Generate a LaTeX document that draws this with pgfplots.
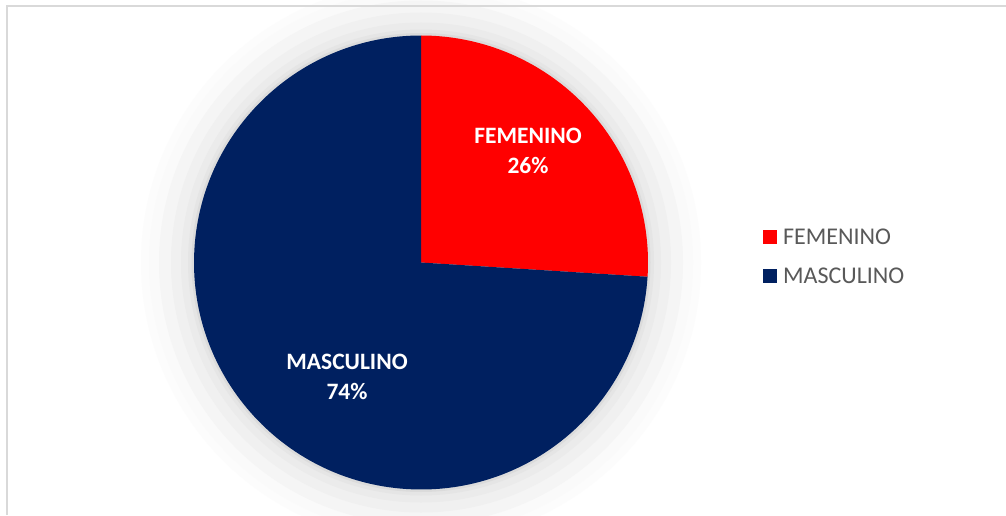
\documentclass[border=0pt]{standalone}
\usepackage{pgfplots}
\usepackage{pgfplotstable}
\pgfplotsset{compat=1.18}
\usepackage{fontspec}
\setmainfont{Carlito}

\definecolor{fem}{HTML}{FF0000}
\definecolor{mas}{HTML}{002060}
\definecolor{legtext}{HTML}{595959}
\definecolor{frame}{HTML}{D9D9D9}

% share of each group, in percent
\pgfplotstableread{
label      value
FEMENINO   26
MASCULINO  74
}\piedata

\pgfplotstablegetelem{0}{value}\of\piedata
\let\valF\pgfplotsretval
\pgfplotstablegetelem{1}{value}\of\piedata
\let\valM\pgfplotsretval
% slices start at 12 o'clock and run clockwise
\pgfmathsetmacro{\endF}{90-3.6*\valF}
\pgfmathsetmacro{\endM}{\endF-3.6*\valM}

\begin{document}
\begin{tikzpicture}
\begin{axis}[
    x=1pt, y=1pt,
    xmin=0, xmax=1006, ymin=0, ymax=515,
    hide axis, clip=false,
  ]
  \fill[white] (axis cs:0,0) rectangle (axis cs:1006,515);

  % soft shadow round the pie
  \fill[black!1]  (axis cs:421,252.5) circle[radius=280pt];
  \fill[black!2]  (axis cs:421,252.5) circle[radius=272pt];
  \fill[black!4]  (axis cs:421,252.5) circle[radius=262pt];
  \fill[black!6]  (axis cs:421,252.5) circle[radius=250pt];
  \fill[black!8]  (axis cs:421,252.5) circle[radius=240pt];
  \fill[black!10] (axis cs:421,252.5) circle[radius=233pt];
  \fill[black!14] (axis cs:421,252.5) circle[radius=229.5pt];

  % chart frame
  \draw[frame, line width=1.5pt] (axis cs:7,0) -- (axis cs:7,509) -- (axis cs:1006,509);

  % slices
  \fill[fem] (axis cs:421,252.5) -- (axis cs:421,479.5)
    arc[start angle=90, end angle=\endF, radius=227pt] -- cycle;
  \fill[mas] (axis cs:421,252.5) -- ([shift={(\endF:227pt)}]axis cs:421,252.5)
    arc[start angle=\endF, end angle=\endM, radius=227pt] -- cycle;

  % data labels
  \node[text=white, font=\fontsize{23.5}{30}\selectfont\bfseries, align=center]
    at (axis cs:528,364) {FEMENINO\\26\%};
  \node[text=white, font=\fontsize{23.5}{30}\selectfont\bfseries, align=center]
    at (axis cs:347,138) {MASCULINO\\74\%};

  % legend
  \fill[fem] (axis cs:763,271) rectangle (axis cs:777,285);
  \fill[mas] (axis cs:763,232) rectangle (axis cs:777,246);
  \node[text=legtext, font=\fontsize{24}{28}\selectfont, anchor=west, inner sep=0pt]
    at (axis cs:783,278) {FEMENINO};
  \node[text=legtext, font=\fontsize{24}{28}\selectfont, anchor=west, inner sep=0pt]
    at (axis cs:783,239) {MASCULINO};
\end{axis}
\pgfresetboundingbox
\path (current axis.south west) rectangle (current axis.north east);
\end{tikzpicture}
\end{document}
